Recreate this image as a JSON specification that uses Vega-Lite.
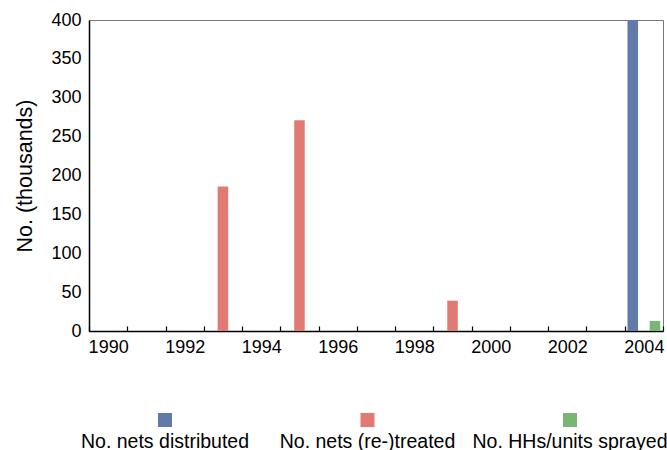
{
  "$schema": "https://vega.github.io/schema/vega-lite/v6.json",
  "padding": {"left": 14, "top": 10, "right": 4, "bottom": 0},
  "spacing": 43,
  "config": {
    "font": "Liberation Sans",
    "view": {"stroke": null},
    "axis": {"labelFont": "Liberation Sans", "titleFont": "Liberation Sans", "labelColor": "#000", "titleColor": "#000", "domainColor": "#000", "tickColor": "#000", "grid": false}
  },
  "vconcat": [
    {
      "width": 574,
      "height": 311,
      "view": {"stroke": "#777", "strokeWidth": 1},
      "data": {"values": [
        {"year": 1993, "series": "No. nets (re-)treated", "value": 186},
        {"year": 1995, "series": "No. nets (re-)treated", "value": 271},
        {"year": 1999, "series": "No. nets (re-)treated", "value": 39},
        {"year": 2004, "series": "No. nets distributed", "value": 400},
        {"year": 2004, "series": "No. HHs/units sprayed", "value": 13}
      ]},
      "mark": {"type": "bar"},
      "encoding": {
        "x": {
          "field": "year", "type": "ordinal",
          "scale": {"domain": [1990,1991,1992,1993,1994,1995,1996,1997,1998,1999,2000,2001,2002,2003,2004], "paddingInner": 0, "paddingOuter": 0},
          "axis": {"title": null, "labelAngle": 0, "labelFontSize": 18, "labelExpr": "datum.value % 2 == 0 ? datum.label : ''", "tickBand": "extent", "tickSize": -5, "labelPadding": 12, "domainWidth": 1.5, "tickWidth": 1.2}
        },
        "xOffset": {
          "field": "series", "type": "nominal",
          "scale": {"domain": ["No. nets distributed", "No. nets (re-)treated", "No. HHs/units sprayed"], "paddingInner": 0.05, "paddingOuter": 0.25}
        },
        "y": {
          "field": "value", "type": "quantitative",
          "scale": {"domain": [0, 400], "nice": false},
          "axis": {"title": "No. (thousands)", "titleFontSize": 21.5, "titleFontWeight": "normal", "labelFontSize": 18, "values": [0,50,100,150,200,250,300,350,400], "ticks": false, "labelPadding": 8, "titlePadding": 14, "domainWidth": 1.5}
        },
        "color": {
          "field": "series", "type": "nominal",
          "scale": {"domain": ["No. nets distributed", "No. nets (re-)treated", "No. HHs/units sprayed"], "range": ["#607ba8", "#e07a72", "#7ab673"]},
          "legend": null
        }
      }
    },
    {
      "width": 574,
      "height": 40,
      "data": {"values": [
        {"series": "No. nets distributed"},
        {"series": "No. nets (re-)treated"},
        {"series": "No. HHs/units sprayed"}
      ]},
      "layer": [
        {
          "mark": {"type": "square", "size": 196, "opacity": 1},
          "encoding": {
            "x": {"field": "series", "type": "nominal", "sort": ["No. nets distributed", "No. nets (re-)treated", "No. HHs/units sprayed"], "scale": {"type": "point", "range": [76, 481], "padding": 0}, "axis": null},
            "color": {
              "field": "series", "type": "nominal",
              "scale": {"domain": ["No. nets distributed", "No. nets (re-)treated", "No. HHs/units sprayed"], "range": ["#607ba8", "#e07a72", "#7ab673"]},
              "legend": null
            }
          }
        },
        {
          "mark": {"type": "text", "fontSize": 19.5, "dy": 28, "baseline": "alphabetic", "align": "center", "font": "Liberation Sans", "color": "#000"},
          "encoding": {
            "x": {"field": "series", "type": "nominal", "sort": ["No. nets distributed", "No. nets (re-)treated", "No. HHs/units sprayed"], "scale": {"type": "point", "range": [76, 481], "padding": 0}, "axis": null},
            "text": {"field": "series"}
          }
        }
      ]
    }
  ]
}
